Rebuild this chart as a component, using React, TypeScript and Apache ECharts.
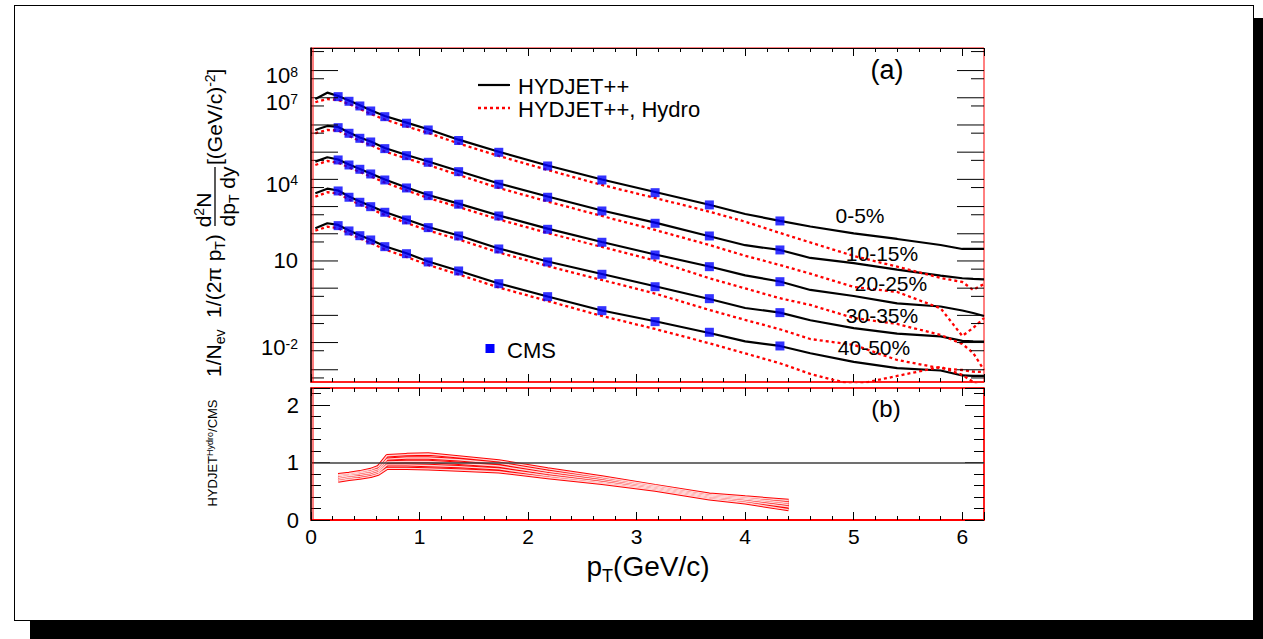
import React, { useEffect, useRef } from 'react';
import * as echarts from 'echarts';

const FF = "'Liberation Sans', Arial, Helvetica, sans-serif";

// ---- model curves (HYDJET++ full and Hydro part), pT in GeV/c ----
const modelPt = [0.04, 0.15, 0.25, 0.35, 0.45, 0.55, 0.68, 0.88, 1.08, 1.36, 1.73, 2.18, 2.68, 3.17, 3.67, 4.0, 4.32, 4.6, 5.0, 5.4, 5.8, 6.0, 6.1, 6.2];

const hydjet_0_5 = [9.0e6, 1.54e7, 1.16e7, 7.96e6, 5.3e6, 3.47e6, 2.14e6, 1.22e6, 6.95e5, 2.88e5, 1.04e5, 3.24e4, 9.9e3, 3.44e3, 1.17e3, 535, 296, 185, 103, 64.4, 38.7, 27.6, 27.6, 27.6];
const hydro_0_5 = [6.84e6, 9.0e6, 8.3e6, 5.92e6, 3.87e6, 2.54e6, 1.59e6, 8.81e5, 5.08e5, 2.09e5, 7.25e4, 2.22e4, 6.22e3, 2.07e3, 650, 278, 107, 47.9, 15.3, 6.17, 2.37, 1.69, 0.86, 1.43];

const hydjet_10_15 = [6.55e5, 9.19e5, 8.44e5, 5.3e5, 3.47e5, 2.47e5, 1.43e5, 7.89e4, 4.55e4, 2.04e4, 7.06e3, 2.35e3, 719, 256, 80.9, 38.0, 25.4, 12.9, 8.3, 4.83, 2.88, 2.31, 2.18, 2.12];
const hydro_10_15 = [4.95e5, 6.55e5, 6.28e5, 3.94e5, 2.58e5, 1.84e5, 1.06e5, 5.86e4, 3.38e4, 1.45e4, 4.83e3, 1.54e3, 451, 138, 38.7, 15.5, 7.1, 3.41, 1.11, 0.724, 0.183, 0.0175, 0.0344, 0.08];

const hydjet_20_25 = [4.48e4, 6.5e4, 5.39e4, 3.53e4, 2.41e4, 1.65e4, 9.9e3, 5.04e3, 2.67e3, 1.28e3, 471, 154, 50.0, 17.3, 6.28, 2.95, 1.76, 0.859, 0.516, 0.274, 0.212, 0.151, 0.122, 0.095];
const hydro_20_25 = [3.38e4, 4.74e4, 4.11e4, 2.74e4, 1.87e4, 1.28e4, 7.69e3, 3.91e3, 2.07e3, 966, 336, 107, 32.7, 10.4, 2.31, 0.98, 0.426, 0.241, 0.0802, 0.0483, 0.019, 0.0089, 0.00415, 0.00098];

const hydjet_30_35 = [3.08e3, 4.55e3, 3.91e3, 2.35e3, 1.54e3, 1.05e3, 633, 336, 178, 86.6, 28.8, 9.59, 3.33, 1.18, 0.401, 0.187, 0.126, 0.066, 0.0338, 0.0214, 0.0168, 0.0115, 0.011, 0.0109];
const hydro_30_35 = [2.31e3, 3.36e3, 3.03e3, 1.82e3, 1.19e3, 817, 491, 249, 132, 61.7, 20.5, 6.55, 2.0, 0.632, 0.158, 0.0678, 0.0308, 0.0135, 0.0082, 0.00229, 0.00114, 0.00098, 0.00085, 0.00083];

const hydjet_40_50 = [159, 243, 211, 132, 88.1, 60.7, 34.7, 19.2, 9.59, 4.39, 1.49, 0.495, 0.151, 0.0607, 0.0225, 0.011, 0.0075, 0.00405, 0.00196, 0.00114, 0.00094, 0.000617, 0.000591, 0.000591];
const hydro_40_50 = [130, 182, 159, 103, 67.1, 45.9, 26.5, 14.0, 7.13, 3.19, 1.06, 0.338, 0.095, 0.0316, 0.0094, 0.004, 0.00173, 0.000702, 0.000276, 0.000591, 0.00127, 0.000644, 0.000356, 0.000187];

// ---- CMS data points ----
const cmsPt = [0.25, 0.35, 0.45, 0.55, 0.68, 0.88, 1.08, 1.36, 1.73, 2.18, 2.68, 3.17, 3.67, 4.32];
const cms_0_5 = [1.1e7, 7.43e6, 5.0e6, 3.27e6, 2.02e6, 1.16e6, 6.55e5, 2.69e5, 9.9e4, 3.11e4, 9.5e3, 3.24e3, 1.15e3, 296];
const cms_10_15 = [7.96e5, 4.95e5, 3.24e5, 2.37e5, 1.35e5, 7.43e4, 4.25e4, 1.92e4, 6.6e3, 2.2e3, 689, 243, 83, 25.4];
const cms_20_25 = [5.17e4, 3.38e4, 2.35e4, 1.58e4, 9.5e3, 4.83e3, 2.52e3, 1.22e3, 451, 146, 48.7, 16.6, 6.17, 1.73];
const cms_30_35 = [3.75e3, 2.2e3, 1.44e3, 991, 617, 322, 168, 83, 27.6, 9.2, 3.24, 1.13, 0.411, 0.126];
const cms_40_50 = [199, 127, 85, 59.2, 33.6, 18.5, 9.2, 4.29, 1.46, 0.487, 0.149, 0.0587, 0.0239, 0.0075];

// ---- ratio HYDJET++ Hydro / CMS ----
const ratioPt = [0.25, 0.35, 0.45, 0.55, 0.62, 0.7, 0.88, 1.08, 1.36, 1.73, 2.18, 2.68, 3.17, 3.67, 4.0, 4.4];
const ratio_0_5 = [0.79, 0.81, 0.84, 0.88, 0.93, 1.12, 1.14, 1.15, 1.1, 1.03, 0.89, 0.75, 0.6, 0.45, 0.4, 0.34];
const ratio_10_15 = [0.77, 0.79, 0.82, 0.85, 0.89, 1.06, 1.08, 1.08, 1.05, 0.99, 0.85, 0.72, 0.58, 0.43, 0.38, 0.3];
const ratio_20_25 = [0.74, 0.77, 0.79, 0.82, 0.86, 1.01, 1.02, 1.02, 0.99, 0.94, 0.81, 0.69, 0.56, 0.41, 0.36, 0.27];
const ratio_30_35 = [0.71, 0.74, 0.76, 0.79, 0.83, 0.96, 0.96, 0.95, 0.93, 0.89, 0.77, 0.66, 0.54, 0.39, 0.33, 0.23];
const ratio_40_50 = [0.68, 0.71, 0.73, 0.76, 0.8, 0.9, 0.9, 0.89, 0.87, 0.84, 0.74, 0.64, 0.52, 0.37, 0.3, 0.18];

const centralities = ['0-5%', '10-15%', '20-25%', '30-35%', '40-50%'];

// ---- axis ticks / labels of the log axis ----
const yMajorTicks = [1e-3, 1e-2, 0.1, 1, 10, 100, 1e3, 1e4, 1e5, 1e6, 1e7, 1e8];
const yMinorTicks = [5e-4, 5e-3, 0.05, 0.5, 5, 50, 500, 5e3, 5e4, 5e5, 5e6, 5e7, 5e8];
const yLabelValues = [1e8, 1e7, 1e4, 10, 1e-2];
const yLabelTexts = ['10^8', '10^7', '10^4', '10', '10^-2'];

const zip = (xs: number[], ys: number[]) => xs.map((x, i) => [x, ys[i]]);

export default function App() {
  const ref = useRef<HTMLDivElement>(null);

  useEffect(() => {
    if (!ref.current) return;
    const chart = echarts.init(ref.current, null, { renderer: 'svg' });

    const hydjetSets = [hydjet_0_5, hydjet_10_15, hydjet_20_25, hydjet_30_35, hydjet_40_50];
    const hydroSets = [hydro_0_5, hydro_10_15, hydro_20_25, hydro_30_35, hydro_40_50];
    const cmsSets = [cms_0_5, cms_10_15, cms_20_25, cms_30_35, cms_40_50];
    const ratioSets = [ratio_0_5, ratio_10_15, ratio_20_25, ratio_30_35, ratio_40_50];

    const series: any[] = [];
    hydjetSets.forEach((d, i) => {
      series.push({
        name: 'HYDJET++ ' + centralities[i], type: 'line', xAxisIndex: 0, yAxisIndex: 0,
        data: zip(modelPt, d), showSymbol: false, z: 2,
        lineStyle: { color: '#000', width: 2.2 },
      });
    });
    hydroSets.forEach((d, i) => {
      series.push({
        name: 'HYDJET++, Hydro ' + centralities[i], type: 'line', xAxisIndex: 0, yAxisIndex: 0,
        data: zip(modelPt, d), showSymbol: false, z: 3,
        lineStyle: { color: '#ff0000', width: 2.3, type: [3, 3] },
      });
    });
    cmsSets.forEach((d, i) => {
      series.push({
        name: 'CMS ' + centralities[i], type: 'scatter', xAxisIndex: 0, yAxisIndex: 0,
        data: zip(cmsPt, d), symbol: 'rect', symbolSize: 9, z: 4,
        itemStyle: { color: '#0000ff' },
      });
    });
    ratioSets.forEach((d, i) => {
      series.push({
        name: 'ratio ' + centralities[i], type: 'line', xAxisIndex: 2, yAxisIndex: 1,
        data: zip(ratioPt, d), showSymbol: false, z: 3,
        lineStyle: { color: '#ff0000', width: 3.4 },
        markLine: i === 0 ? {
          silent: true, symbol: 'none', label: { show: false },
          lineStyle: { color: '#404040', width: 1.5, type: 'solid' },
          data: [{ yAxis: 1 }],
        } : undefined,
      });
      series.push({
        name: 'ratio band ' + centralities[i], type: 'line', xAxisIndex: 2, yAxisIndex: 1,
        data: zip(ratioPt, d), showSymbol: false, z: 4,
        lineStyle: { color: '#ffd6d6', width: 1.4 },
      });
    });

    // log-axis ticks (left and right)
    series.push({
      type: 'custom', xAxisIndex: 0, yAxisIndex: 0, silent: true, z: 6, clip: false,
      data: [...yMajorTicks.map((v) => [0, v, 1]), ...yMinorTicks.map((v) => [0, v, 0])],
      renderItem: (params: any, api: any) => {
        const cs = params.coordSys;
        const y = api.coord([0, api.value(1)])[1];
        const len = api.value(2) ? 27 : 13;
        return {
          type: 'group',
          children: [
            { type: 'line', shape: { x1: cs.x, y1: y, x2: cs.x + len, y2: y }, style: { stroke: '#000', lineWidth: 1 } },
            { type: 'line', shape: { x1: cs.x + cs.width - len, y1: y, x2: cs.x + cs.width, y2: y }, style: { stroke: '#000', lineWidth: 1 } },
          ],
        };
      },
    });
    // log-axis labels
    series.push({
      type: 'custom', xAxisIndex: 0, yAxisIndex: 0, silent: true, z: 6, clip: false,
      data: yLabelValues.map((v) => [0, v]),
      renderItem: (params: any, api: any) => {
        const cs = params.coordSys;
        const y = api.coord([0, api.value(1)])[1];
        const parts = yLabelTexts[params.dataIndex].split('^');
        const sup = parts.length > 1;
        return {
          type: 'text',
          x: cs.x - 13,
          y: y + (sup ? 5 : 0),
          style: {
            text: sup ? `{b|${parts[0]}}{s|${parts[1]}}` : `{b|${parts[0]}}`,
            align: 'right', verticalAlign: 'middle', fill: '#000',
            rich: {
              b: { fontSize: 22, fontFamily: FF, lineHeight: 22, verticalAlign: 'bottom', fill: '#000' },
              s: { fontSize: 14, fontFamily: FF, lineHeight: 14, padding: [0, 0, 14, 0], verticalAlign: 'top', fill: '#000' },
            },
          },
        };
      },
    });

    const xCommon = {
      type: 'value', min: 0, max: 6.2, interval: 1,
      splitLine: { show: false },
      axisTick: { show: true, inside: true, length: 8, lineStyle: { color: '#000', width: 1 } },
      minorTick: { show: true, splitNumber: 5, length: 4, lineStyle: { color: '#000', width: 1 } },
    };

    const richSub = {
      n: { fontSize: 21, fontFamily: FF, lineHeight: 22, verticalAlign: 'top', fill: '#000' },
      d: { fontSize: 14, fontFamily: FF, lineHeight: 14, padding: [10, 0, 0, 0], verticalAlign: 'top', fill: '#000' },
    };
    const richSup = {
      n: { fontSize: 21, fontFamily: FF, lineHeight: 22, verticalAlign: 'bottom', fill: '#000' },
      u: { fontSize: 14, fontFamily: FF, lineHeight: 14, padding: [0, 0, 10, 0], verticalAlign: 'top', fill: '#000' },
    };

    const txt = (text: string, x: number, y: number, size: number, align = 'center') => ({
      type: 'text', x, y, z: 50,
      style: { text, fill: '#000', font: `${size}px ${FF}`, align, verticalAlign: 'middle' },
    });

    const option: any = {
      animation: false,
      grid: [
        { left: 311, top: 48, width: 673, height: 334, show: true, borderColor: '#ff0000', borderWidth: 1, backgroundColor: 'transparent' },
        { left: 311, top: 388, width: 673, height: 132, show: true, borderColor: '#ff0000', borderWidth: 1, backgroundColor: 'transparent' },
      ],
      xAxis: [
        { ...xCommon, gridIndex: 0, position: 'bottom', axisLine: { show: true, onZero: false, lineStyle: { color: '#ff0000', width: 1.5 } }, axisLabel: { show: false } },
        { ...xCommon, gridIndex: 0, position: 'top', axisLine: { show: true, onZero: false, lineStyle: { color: '#000', width: 1.2 } }, axisLabel: { show: false } },
        {
          ...xCommon, gridIndex: 1, position: 'bottom',
          axisLine: { show: true, onZero: false, lineStyle: { color: '#ff0000', width: 1.8 } },
          axisLabel: { show: true, margin: 6, fontSize: 21, fontFamily: FF, color: '#000', formatter: (v: number) => (Number.isInteger(v) ? String(v) : '') },
        },
        { ...xCommon, gridIndex: 1, position: 'top', axisLine: { show: true, onZero: false, lineStyle: { color: '#ff0000', width: 1.5 } }, axisLabel: { show: false } },
      ],
      yAxis: [
        {
          type: 'log', logBase: 10, gridIndex: 0, min: Math.pow(10, -3.45), max: Math.pow(10, 8.83),
          axisLine: { show: true, onZero: false, lineStyle: { color: '#000', width: 1.5 } },
          axisTick: { show: false }, axisLabel: { show: false }, splitLine: { show: false },
        },
        {
          type: 'value', gridIndex: 1, min: 0, max: 2.3, interval: 1, position: 'left',
          axisLine: { show: true, onZero: false, lineStyle: { color: '#000', width: 1.5 } },
          axisTick: { show: true, inside: true, length: 19, lineStyle: { color: '#000', width: 1 } },
          minorTick: { show: true, splitNumber: 5, length: 10, lineStyle: { color: '#000', width: 1 } },
          splitLine: { show: false },
          axisLabel: { show: true, margin: 12, fontSize: 22, fontFamily: FF, color: '#000', formatter: (v: number) => (Number.isInteger(v) ? String(v) : '') },
        },
        {
          type: 'value', gridIndex: 1, min: 0, max: 2.3, interval: 1, position: 'right',
          axisLine: { show: true, onZero: false, lineStyle: { color: '#ff0000', width: 1.5 } },
          axisTick: { show: true, inside: true, length: 19, lineStyle: { color: '#000', width: 1 } },
          minorTick: { show: true, splitNumber: 5, length: 10, lineStyle: { color: '#000', width: 1 } },
          splitLine: { show: false }, axisLabel: { show: false },
        },
      ],
      series,
      graphic: {
        elements: [
          // inner red lines next to the black left axes
          { type: 'line', z: 40, shape: { x1: 313, y1: 48, x2: 313, y2: 382 }, style: { stroke: '#ff0000', lineWidth: 1 } },
          { type: 'line', z: 40, shape: { x1: 313, y1: 388, x2: 313, y2: 520 }, style: { stroke: '#ff0000', lineWidth: 1 } },
          // legend
          { type: 'line', z: 50, shape: { x1: 478, y1: 85, x2: 510, y2: 85 }, style: { stroke: '#000', lineWidth: 2.2 } },
          txt('HYDJET++', 518, 86, 22, 'left'),
          { type: 'line', z: 50, shape: { x1: 478, y1: 108, x2: 510, y2: 108 }, style: { stroke: '#ff0000', lineWidth: 2.3, lineDash: [3, 3] } },
          txt('HYDJET++, Hydro', 518, 109, 22, 'left'),
          { type: 'rect', z: 50, shape: { x: 485.5, y: 344, width: 9, height: 9 }, style: { fill: '#0000ff' } },
          txt('CMS', 507, 350, 22, 'left'),
          // panel tags
          txt('(a)', 887, 70, 27),
          txt('(b)', 886, 408, 24),
          // centrality labels
          txt(centralities[0], 860, 215, 21),
          txt(centralities[1], 882, 253, 21),
          txt(centralities[2], 891, 283, 21),
          txt(centralities[3], 882, 315, 21),
          txt(centralities[4], 874, 347, 21),
          // y title of panel (a)
          {
            type: 'text', x: 214, y: 377, rotation: Math.PI / 2, z: 50,
            style: { text: '{n|1/N}{d|ev}{n|  1/(2π p}{d|T}{n|)}', align: 'left', verticalAlign: 'middle', rich: richSub },
          },
          {
            type: 'text', x: 203, y: 210, rotation: Math.PI / 2, z: 50,
            style: { text: '{n|d}{u|2}{n|N}', align: 'center', verticalAlign: 'middle', rich: richSup },
          },
          { type: 'line', z: 50, shape: { x1: 215, y1: 226, x2: 215, y2: 167 }, style: { stroke: '#000', lineWidth: 1.3 } },
          {
            type: 'text', x: 228, y: 196.5, rotation: Math.PI / 2, z: 50,
            style: { text: '{n|dp}{d|T}{n| dy}', align: 'center', verticalAlign: 'middle', rich: richSub },
          },
          {
            type: 'text', x: 214, y: 165, rotation: Math.PI / 2, z: 50,
            style: { text: '{n|[(GeV/c)}{u|-2}{n|]}', align: 'left', verticalAlign: 'middle', rich: richSup },
          },
          // y title of panel (b)
          {
            type: 'text', x: 212, y: 453, rotation: Math.PI / 2, z: 50,
            style: {
              text: '{n|HYDJET}{u|Hydro}{n|/CMS}', align: 'center', verticalAlign: 'middle',
              rich: {
                n: { fontSize: 13, fontFamily: FF, lineHeight: 14, verticalAlign: 'bottom', fill: '#000' },
                u: { fontSize: 9, fontFamily: FF, lineHeight: 9, padding: [0, 0, 7, 0], verticalAlign: 'top', fill: '#000' },
              },
            },
          },
          // x title
          {
            type: 'text', x: 648, y: 566, z: 50,
            style: {
              text: '{n|p}{d|T}{n|(GeV/c)}', align: 'center', verticalAlign: 'middle',
              rich: {
                n: { fontSize: 28, fontFamily: FF, lineHeight: 28, verticalAlign: 'top', fill: '#000' },
                d: { fontSize: 18, fontFamily: FF, lineHeight: 18, padding: [15, 0, 0, 0], verticalAlign: 'top', fill: '#000' },
              },
            },
          },
        ],
      },
    };

    chart.setOption(option);
    return () => chart.dispose();
  }, []);

  return (
    <div style={{ position: 'fixed', left: 0, top: 0, width: 1263, height: 639, background: '#fff', overflow: 'hidden' }}>
      <div style={{ position: 'absolute', left: 30, top: 18, width: 1240, height: 640, background: '#000' }} />
      <div style={{ position: 'absolute', left: 14, top: 5, width: 1240, height: 616, background: '#fff', border: '1px solid #000', boxSizing: 'border-box' }} />
      <div ref={ref} style={{ position: 'absolute', left: 0, top: 0, width: 1263, height: 639 }} />
    </div>
  );
}
